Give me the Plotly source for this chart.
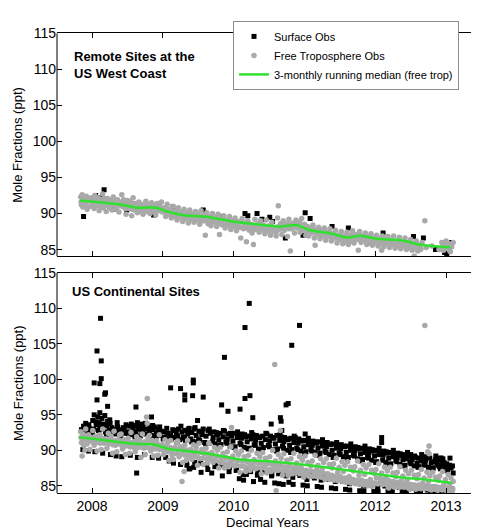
import plotly.graph_objects as go

# ---------------- data (decimal year, mole fraction ppt) ----------------
years_ticks = [2008, 2009, 2010, 2011, 2012, 2013]
y_ticks = [85, 90, 95, 100, 105, 110, 115]

# Top panel: remote sites at the US west coast
top_surface = [
    (2007.88, 89.6), (2007.92, 91.9), (2008.05, 92.5), (2008.12, 92.2), (2008.17, 93.3),
    (2008.25, 91.0), (2008.33, 90.6), (2008.49, 90.5), (2008.58, 91.4), (2008.70, 90.4),
    (2008.87, 89.8), (2008.95, 90.9), (2009.14, 90.9), (2009.30, 89.4), (2009.45, 89.9),
    (2009.57, 90.5), (2009.71, 88.9), (2009.85, 89.6), (2010.00, 88.6), (2010.16, 90.0),
    (2010.20, 89.7), (2010.33, 90.0), (2010.40, 89.2), (2010.51, 89.5), (2010.55, 88.9),
    (2010.73, 86.6), (2010.86, 88.4), (2010.98, 87.0), (2011.01, 90.1), (2011.08, 89.3),
    (2011.25, 87.5), (2011.39, 88.2), (2011.50, 86.8), (2011.62, 88.0), (2011.70, 86.4),
    (2011.83, 86.8), (2011.95, 86.0), (2012.11, 87.3), (2012.25, 86.1), (2012.40, 85.6),
    (2012.54, 86.8), (2012.68, 86.6), (2012.85, 85.0), (2012.96, 85.9), (2013.01, 84.3),
    (2013.05, 85.2), (2013.08, 86.0), (2012.98, 84.6),
]
top_free = [
    (2007.84, 92.3), (2007.85, 91.2), (2007.86, 92.6), (2007.87, 90.9), (2007.88, 91.8),
    (2007.89, 92.1), (2007.90, 91.5), (2007.92, 92.4), (2007.93, 90.6), (2007.95, 91.9),
    (2007.97, 91.0), (2007.99, 92.2), (2008.01, 91.4), (2008.03, 90.7), (2008.04, 92.5),
    (2008.06, 91.1), (2008.08, 91.8), (2008.10, 90.4), (2008.11, 92.0), (2008.13, 91.3),
    (2008.15, 92.7), (2008.16, 90.8), (2008.18, 91.6), (2008.20, 90.3), (2008.22, 92.1),
    (2008.24, 91.0), (2008.26, 91.7), (2008.28, 90.5), (2008.30, 92.3), (2008.32, 91.2),
    (2008.34, 90.6), (2008.36, 91.9), (2008.38, 90.2), (2008.40, 91.5), (2008.42, 92.6),
    (2008.44, 90.9), (2008.46, 91.4), (2008.48, 89.9), (2008.50, 91.8), (2008.52, 90.7),
    (2008.54, 91.2), (2008.56, 89.7), (2008.58, 92.2), (2008.60, 90.5), (2008.62, 91.1),
    (2008.64, 90.1), (2008.66, 91.6), (2008.68, 90.4), (2008.70, 91.3), (2008.72, 89.9),
    (2008.74, 90.9), (2008.76, 91.7), (2008.78, 90.3), (2008.80, 91.0), (2008.82, 90.0),
    (2008.84, 91.5), (2008.86, 90.6), (2008.88, 91.2), (2008.90, 89.8), (2008.92, 91.4),
    (2008.94, 90.4), (2008.96, 90.9), (2008.98, 91.6), (2009.00, 90.2), (2009.02, 90.8),
    (2009.04, 89.6), (2009.06, 91.3), (2009.08, 90.0), (2009.10, 90.6), (2009.12, 89.4),
    (2009.14, 91.0), (2009.16, 89.9), (2009.18, 90.4), (2009.20, 89.1), (2009.22, 90.8),
    (2009.24, 89.6), (2009.26, 90.2), (2009.28, 88.9), (2009.30, 90.6), (2009.32, 89.4),
    (2009.34, 90.0), (2009.36, 88.7), (2009.38, 90.5), (2009.40, 89.3), (2009.42, 89.9),
    (2009.44, 88.8), (2009.46, 90.3), (2009.48, 89.1), (2009.50, 89.7), (2009.52, 88.5),
    (2009.54, 90.4), (2009.56, 89.0), (2009.58, 89.8), (2009.60, 87.0), (2009.62, 90.1),
    (2009.64, 88.6), (2009.66, 89.4), (2009.68, 88.3), (2009.70, 90.0), (2009.72, 88.9),
    (2009.74, 89.5), (2009.76, 88.2), (2009.78, 89.9), (2009.80, 87.1), (2009.82, 89.2),
    (2009.84, 88.4), (2009.86, 89.7), (2009.88, 88.0), (2009.90, 89.1), (2009.92, 88.6),
    (2009.94, 89.6), (2009.96, 87.8), (2009.98, 89.0), (2010.00, 88.3), (2010.02, 89.4),
    (2010.04, 87.6), (2010.06, 88.9), (2010.08, 88.1), (2010.10, 86.6), (2010.12, 89.3),
    (2010.14, 87.9), (2010.16, 88.7), (2010.18, 86.1), (2010.20, 89.0), (2010.22, 87.7),
    (2010.24, 88.5), (2010.26, 87.3), (2010.28, 85.7), (2010.30, 89.2), (2010.32, 88.0),
    (2010.34, 88.6), (2010.36, 87.4), (2010.38, 89.0), (2010.40, 87.9), (2010.42, 88.4),
    (2010.44, 87.2), (2010.46, 89.1), (2010.48, 87.6), (2010.50, 88.3), (2010.52, 87.0),
    (2010.54, 88.8), (2010.56, 87.5), (2010.58, 88.1), (2010.60, 86.9), (2010.62, 89.4),
    (2010.63, 91.1), (2010.64, 87.8), (2010.66, 88.6), (2010.68, 87.1), (2010.70, 89.0),
    (2010.72, 87.7), (2010.74, 88.5), (2010.76, 86.8), (2010.78, 89.2), (2010.80, 84.8),
    (2010.82, 87.9), (2010.84, 88.7), (2010.86, 87.3), (2010.88, 89.1), (2010.90, 88.0),
    (2010.92, 88.8), (2010.94, 87.4), (2010.96, 89.3), (2010.98, 87.8), (2011.00, 88.5),
    (2011.02, 87.0), (2011.04, 88.2), (2011.06, 86.9), (2011.08, 88.0), (2011.10, 87.3),
    (2011.12, 88.4), (2011.14, 86.6), (2011.15, 85.6), (2011.16, 87.8), (2011.18, 87.1),
    (2011.20, 88.1), (2011.22, 86.5), (2011.24, 87.6), (2011.26, 86.9), (2011.28, 88.0),
    (2011.30, 86.3), (2011.32, 87.4), (2011.34, 86.8), (2011.36, 87.9), (2011.38, 86.2),
    (2011.40, 87.2), (2011.42, 86.6), (2011.44, 87.7), (2011.46, 85.9), (2011.48, 87.0),
    (2011.50, 86.4), (2011.52, 87.5), (2011.54, 85.8), (2011.56, 86.9), (2011.58, 86.1),
    (2011.60, 87.4), (2011.62, 85.7), (2011.64, 86.8), (2011.66, 86.2), (2011.68, 87.6),
    (2011.70, 85.9), (2011.72, 87.1), (2011.74, 86.4), (2011.76, 84.9), (2011.78, 87.5),
    (2011.80, 86.0), (2011.82, 86.9), (2011.84, 86.3), (2011.86, 87.3), (2011.88, 85.7),
    (2011.90, 86.8), (2011.92, 86.1), (2011.94, 87.2), (2011.96, 85.6), (2011.98, 86.6),
    (2012.00, 86.0), (2012.02, 87.0), (2012.04, 85.5), (2012.06, 86.5), (2012.08, 85.9),
    (2012.09, 84.9), (2012.10, 86.9), (2012.12, 85.4), (2012.14, 86.4), (2012.16, 85.8),
    (2012.18, 86.8), (2012.20, 85.3), (2012.22, 86.3), (2012.24, 85.7), (2012.26, 86.9),
    (2012.28, 85.2), (2012.30, 86.2), (2012.32, 85.6), (2012.34, 86.7), (2012.36, 85.1),
    (2012.38, 86.1), (2012.40, 85.5), (2012.42, 86.6), (2012.44, 85.0), (2012.46, 86.0),
    (2012.48, 85.4), (2012.50, 86.4), (2012.52, 84.9), (2012.54, 85.8), (2012.55, 84.1),
    (2012.56, 85.2), (2012.58, 86.2), (2012.60, 84.8), (2012.62, 85.6), (2012.64, 85.0),
    (2012.66, 86.0), (2012.70, 89.0), (2012.72, 85.3), (2012.80, 85.5), (2012.90, 85.0),
    (2012.94, 86.0), (2012.96, 84.9), (2012.98, 85.6), (2013.00, 86.2), (2013.02, 85.1),
    (2013.04, 85.8), (2013.06, 84.7), (2013.08, 85.4), (2013.10, 86.0),
]
top_free_core = [
    (2007.845, 91.6), (2007.875, 92.0), (2007.905, 91.1), (2007.935, 91.7), (2007.965, 92.0),
    (2007.995, 91.1), (2008.025, 91.9), (2008.055, 91.3), (2008.085, 92.2), (2008.115, 91.0),
    (2008.145, 91.7), (2008.175, 92.1), (2008.205, 91.2), (2008.235, 91.9), (2008.265, 90.8),
    (2008.295, 91.5), (2008.325, 91.9), (2008.355, 90.9), (2008.385, 91.6), (2008.415, 91.1),
    (2008.445, 91.9), (2008.475, 90.7), (2008.505, 91.3), (2008.535, 91.7), (2008.565, 90.6),
    (2008.595, 91.4), (2008.625, 90.8), (2008.655, 91.2), (2008.685, 90.5), (2008.715, 91.0),
    (2008.745, 90.4), (2008.775, 91.3), (2008.805, 90.6), (2008.835, 91.0), (2008.865, 90.3),
    (2008.895, 91.1), (2008.925, 90.5), (2008.955, 90.9), (2008.985, 90.3), (2009.015, 90.7),
    (2009.045, 90.1), (2009.075, 90.6), (2009.105, 89.8), (2009.135, 90.3), (2009.165, 89.6),
    (2009.195, 90.1), (2009.225, 89.5), (2009.255, 90.0), (2009.285, 89.3), (2009.315, 89.9),
    (2009.345, 89.4), (2009.375, 89.8), (2009.405, 89.2), (2009.435, 89.7), (2009.465, 89.3),
    (2009.495, 89.9), (2009.525, 89.1), (2009.555, 89.6), (2009.585, 89.0), (2009.615, 89.5),
    (2009.645, 89.0), (2009.675, 89.6), (2009.705, 88.8), (2009.735, 89.3), (2009.765, 88.7),
    (2009.795, 89.2), (2009.825, 88.6), (2009.855, 89.1), (2009.885, 88.4), (2009.915, 89.0),
    (2009.945, 88.3), (2009.975, 88.8), (2010.005, 88.2), (2010.035, 88.7), (2010.065, 88.1),
    (2010.095, 88.8), (2010.125, 88.0), (2010.155, 88.5), (2010.185, 88.0), (2010.215, 88.6),
    (2010.245, 87.9), (2010.275, 88.4), (2010.305, 87.8), (2010.335, 88.3), (2010.365, 87.7),
    (2010.395, 88.4), (2010.425, 87.8), (2010.455, 88.2), (2010.485, 87.6), (2010.515, 88.3),
    (2010.545, 87.7), (2010.575, 88.0), (2010.605, 87.5), (2010.635, 88.2), (2010.665, 87.9),
    (2010.695, 88.4), (2010.725, 88.0), (2010.755, 88.6), (2010.785, 87.9), (2010.815, 88.5),
    (2010.845, 88.1), (2010.875, 88.6), (2010.905, 88.2), (2010.935, 88.7), (2010.965, 88.0),
    (2010.995, 88.3), (2011.025, 87.6), (2011.055, 88.0), (2011.085, 87.5), (2011.115, 87.9),
    (2011.145, 87.3), (2011.175, 87.7), (2011.205, 87.2), (2011.235, 87.6), (2011.265, 87.1),
    (2011.295, 87.5), (2011.325, 86.9), (2011.355, 87.3), (2011.385, 86.8), (2011.415, 87.1),
    (2011.445, 86.6), (2011.475, 87.0), (2011.505, 86.5), (2011.535, 86.9), (2011.565, 86.4),
    (2011.595, 86.8), (2011.625, 86.4), (2011.655, 87.0), (2011.685, 86.5), (2011.715, 86.9),
    (2011.745, 86.6), (2011.775, 87.0), (2011.805, 86.5), (2011.835, 86.9), (2011.865, 86.3),
    (2011.895, 86.7), (2011.925, 86.2), (2011.955, 86.6), (2011.985, 86.1), (2012.015, 86.5),
    (2012.045, 86.0), (2012.075, 86.4), (2012.105, 85.9), (2012.135, 86.3), (2012.165, 85.9),
    (2012.195, 86.2), (2012.225, 85.8), (2012.255, 86.2), (2012.285, 85.7), (2012.315, 86.1),
    (2012.345, 85.6), (2012.375, 86.0), (2012.405, 85.6), (2012.435, 85.9), (2012.465, 85.4),
    (2012.495, 85.8), (2012.525, 85.3), (2012.555, 85.6), (2012.585, 85.2), (2012.615, 85.5),
    (2012.645, 85.1), (2012.955, 85.4), (2012.985, 85.0), (2013.015, 85.5), (2013.045, 85.2),
    (2013.075, 85.7),
]
top_median_years = [2007.83, 2008.21, 2008.40, 2008.63, 2008.91, 2009.05, 2009.29, 2009.62,
                    2010.00, 2010.28, 2010.66, 2010.89, 2011.06, 2011.36, 2011.60, 2011.79,
                    2012.02, 2012.26, 2012.40, 2012.63, 2013.06]
top_median_vals = [91.82, 91.45, 91.27, 90.82, 90.82, 90.32, 89.77, 89.55,
                   88.86, 88.55, 88.18, 88.41, 87.73, 87.27, 86.68, 86.91,
                   86.50, 86.36, 86.23, 85.68, 85.32]

# Bottom panel: US continental sites
bottom_surface = [
    (2007.85, 92.9), (2007.87, 90.1), (2007.88, 93.4), (2007.89, 92.5),
    (2007.91, 93.8), (2007.93, 92.6), (2007.95, 89.9), (2007.96, 93.1), (2007.98, 92.4),
    (2008.01, 94.2), (2008.02, 93.0), (2008.03, 95.0), (2008.04, 89.8), (2008.06, 93.6), (2008.08, 94.7), (2008.09, 92.8),
    (2008.10, 93.9), (2008.11, 95.3), (2008.12, 93.2), (2008.14, 94.5), (2008.15, 89.6), (2008.16, 93.7), (2008.18, 94.9), (2008.19, 92.6),
    (2008.21, 93.5), (2008.22, 94.1), (2008.24, 92.8), (2008.25, 94.3), (2008.26, 89.4), (2008.28, 93.2), (2008.29, 92.5),
    (2008.31, 93.0), (2008.33, 92.3), (2008.34, 89.2), (2008.36, 93.3), (2008.38, 92.7),
    (2008.41, 92.9), (2008.42, 89.1), (2008.44, 93.2), (2008.46, 92.4), (2008.48, 93.6),
    (2008.51, 92.6), (2008.53, 93.4), (2008.54, 89.3), (2008.56, 92.2), (2008.58, 93.1), (2008.59, 92.7),
    (2008.61, 93.5), (2008.62, 92.4), (2008.64, 89.0), (2008.66, 93.3), (2008.68, 92.0), (2008.69, 93.7),
    (2008.71, 92.6), (2008.72, 93.2), (2008.74, 89.4), (2008.76, 92.3), (2008.78, 93.0),
    (2008.81, 92.8), (2008.82, 93.4), (2008.84, 92.1), (2008.85, 89.0), (2008.86, 92.9), (2008.88, 93.3),
    (2008.91, 92.4), (2008.93, 93.0), (2008.94, 88.9), (2008.96, 92.1), (2008.98, 92.7),
    (2009.01, 91.8), (2009.02, 92.6), (2009.04, 89.0), (2009.05, 91.9), (2009.07, 92.4), (2009.09, 88.5),
    (2009.11, 92.2), (2009.12, 91.6), (2009.14, 92.9), (2009.15, 88.2), (2009.17, 91.8), (2009.19, 92.5),
    (2009.21, 92.0), (2009.22, 93.0), (2009.24, 91.5), (2009.25, 88.0), (2009.27, 92.6), (2009.29, 91.9),
    (2009.31, 92.8), (2009.32, 91.4), (2009.34, 87.9), (2009.35, 92.3), (2009.37, 93.1), (2009.38, 87.4), (2009.39, 91.6),
    (2009.41, 92.5), (2009.42, 91.3), (2009.44, 93.0), (2009.45, 88.3), (2009.47, 92.1), (2009.49, 91.2),
    (2009.51, 92.7), (2009.52, 91.4), (2009.54, 86.9), (2009.55, 92.2), (2009.57, 93.0), (2009.59, 91.1),
    (2009.61, 92.0), (2009.62, 88.0), (2009.64, 92.8), (2009.65, 91.0), (2009.67, 92.4), (2009.69, 86.8),
    (2009.71, 91.8), (2009.72, 92.6), (2009.74, 90.9), (2009.75, 87.9), (2009.77, 92.2), (2009.79, 91.5),
    (2009.81, 92.4), (2009.82, 90.8), (2009.84, 86.4), (2009.85, 91.9), (2009.87, 92.7), (2009.89, 91.2),
    (2009.91, 91.6), (2009.92, 92.3), (2009.94, 87.6), (2009.95, 90.6), (2009.97, 92.0), (2009.99, 91.3),
    (2010.01, 92.4), (2010.02, 90.5), (2010.04, 87.2), (2010.05, 91.8), (2010.07, 92.1), (2010.08, 86.0), (2010.09, 91.0),
    (2010.11, 91.7), (2010.12, 92.3), (2010.14, 85.8), (2010.15, 90.4), (2010.17, 91.9), (2010.18, 87.4), (2010.19, 91.2),
    (2010.21, 92.0), (2010.22, 90.3), (2010.24, 87.0), (2010.25, 91.6), (2010.27, 92.2), (2010.28, 85.6), (2010.29, 90.8),
    (2010.31, 91.4), (2010.32, 92.1), (2010.34, 86.9), (2010.35, 90.2), (2010.37, 91.8), (2010.38, 85.9), (2010.39, 91.0),
    (2010.41, 92.0), (2010.42, 90.4), (2010.44, 85.5), (2010.45, 91.5), (2010.47, 92.3), (2010.48, 87.1), (2010.49, 90.7),
    (2010.51, 91.3), (2010.52, 92.0), (2010.54, 86.6), (2010.55, 90.1), (2010.57, 91.7), (2010.58, 85.4), (2010.59, 90.9),
    (2010.61, 92.1), (2010.62, 90.2), (2010.64, 85.3), (2010.65, 91.4), (2010.67, 91.9), (2010.68, 86.9), (2010.69, 90.6),
    (2010.71, 91.2), (2010.72, 91.8), (2010.74, 86.4), (2010.75, 90.0), (2010.77, 91.5), (2010.78, 85.5), (2010.79, 90.7),
    (2010.81, 91.7), (2010.82, 90.1), (2010.84, 85.2), (2010.85, 91.1), (2010.87, 91.8), (2010.88, 86.8), (2010.89, 90.3),
    (2010.91, 91.0), (2010.92, 91.6), (2010.94, 86.5), (2010.95, 89.9), (2010.97, 91.3), (2010.98, 85.1), (2010.99, 90.5),
    (2011.01, 91.4), (2011.02, 89.8), (2011.04, 85.0), (2011.05, 90.8), (2011.07, 91.2), (2011.08, 86.6), (2011.09, 90.1),
    (2011.11, 90.7), (2011.12, 91.3), (2011.14, 86.1), (2011.15, 89.7), (2011.17, 91.0), (2011.18, 84.9), (2011.19, 90.3),
    (2011.21, 91.2), (2011.22, 89.6), (2011.24, 84.8), (2011.25, 90.6), (2011.27, 91.0), (2011.28, 86.3), (2011.29, 89.9),
    (2011.31, 90.5), (2011.32, 91.1), (2011.34, 85.9), (2011.35, 89.4), (2011.37, 90.8), (2011.38, 84.7), (2011.39, 90.0),
    (2011.41, 90.9), (2011.42, 89.3), (2011.44, 84.6), (2011.45, 90.3), (2011.47, 90.7), (2011.48, 86.0), (2011.49, 89.6),
    (2011.51, 90.2), (2011.52, 90.8), (2011.54, 85.6), (2011.55, 89.1), (2011.57, 90.5), (2011.58, 84.5), (2011.59, 89.7),
    (2011.61, 90.6), (2011.62, 89.0), (2011.64, 84.4), (2011.65, 90.0), (2011.67, 90.4), (2011.68, 85.8), (2011.69, 89.3),
    (2011.71, 89.9), (2011.72, 90.5), (2011.74, 85.4), (2011.75, 88.8), (2011.77, 90.2), (2011.78, 84.3), (2011.79, 89.5),
    (2011.81, 90.3), (2011.82, 88.7), (2011.84, 84.3), (2011.85, 89.7), (2011.87, 90.1), (2011.88, 85.5), (2011.89, 89.0),
    (2011.91, 89.6), (2011.92, 90.2), (2011.94, 85.2), (2011.95, 88.6), (2011.97, 89.9), (2011.98, 84.2), (2011.99, 89.2),
    (2012.01, 90.0), (2012.02, 88.4), (2012.04, 84.2), (2012.05, 89.4), (2012.07, 89.8), (2012.08, 85.3), (2012.09, 91.8), (2012.09, 91.1),
    (2012.11, 89.3), (2012.12, 89.9), (2012.14, 85.0), (2012.15, 88.3), (2012.17, 89.6), (2012.18, 84.2), (2012.19, 88.9),
    (2012.21, 89.7), (2012.22, 88.1), (2012.24, 84.3), (2012.25, 89.1), (2012.27, 89.5), (2012.28, 85.1), (2012.29, 88.6),
    (2012.31, 89.0), (2012.32, 89.6), (2012.34, 84.8), (2012.35, 88.0), (2012.37, 89.3), (2012.38, 84.2), (2012.39, 88.7),
    (2012.41, 89.4), (2012.42, 87.9), (2012.44, 84.2), (2012.45, 88.8), (2012.47, 89.2), (2012.48, 84.9), (2012.49, 88.3),
    (2012.50, 89.3), (2012.52, 88.7), (2012.53, 84.7), (2012.55, 87.8), (2012.57, 89.0), (2012.58, 84.2), (2012.59, 88.2),
    (2012.61, 88.9), (2012.62, 87.7), (2012.64, 84.2), (2012.65, 88.5), (2012.67, 88.8), (2012.68, 84.8), (2012.69, 88.0),
    (2012.71, 88.6), (2012.72, 89.1), (2012.74, 84.6), (2012.75, 87.6), (2012.77, 88.9), (2012.78, 84.2), (2012.79, 88.2),
    (2012.81, 88.4), (2012.82, 87.5), (2012.84, 84.2), (2012.85, 88.7), (2012.87, 88.1), (2012.88, 84.7), (2012.89, 87.9),
    (2012.91, 88.6), (2012.92, 87.4), (2012.93, 88.9), (2012.94, 84.5), (2012.95, 88.0), (2012.97, 88.3), (2012.98, 84.2), (2012.99, 87.6),
    (2013.01, 88.1), (2013.02, 87.2), (2013.04, 84.2), (2013.05, 87.9), (2013.07, 87.5), (2013.08, 84.6), (2013.09, 87.8), (2013.10, 86.8),
]
bottom_surface_band = [
    (2007.905, 92.9), (2007.955, 93.6), (2008.005, 92.5), (2008.055, 94.0), (2008.105, 92.9),
    (2008.155, 93.4), (2008.205, 92.2), (2008.255, 93.8), (2008.305, 92.6), (2008.355, 93.9),
    (2008.405, 92.0), (2008.455, 93.1), (2008.505, 92.4), (2008.555, 93.7), (2008.605, 91.9),
    (2008.655, 93.0), (2008.705, 92.5), (2008.755, 93.8), (2008.805, 92.0), (2008.855, 93.5),
    (2008.905, 91.8), (2008.955, 93.3), (2009.005, 91.6), (2009.055, 93.1), (2009.105, 91.9),
    (2009.155, 92.8), (2009.205, 91.3), (2009.255, 93.4), (2009.305, 91.7), (2009.355, 92.9),
    (2009.405, 91.2), (2009.455, 93.2), (2009.505, 91.5), (2009.555, 92.6), (2009.605, 90.9),
    (2009.655, 93.0), (2009.705, 91.3), (2009.755, 92.5), (2009.805, 90.7), (2009.855, 92.8),
    (2009.905, 91.0), (2009.955, 92.4), (2010.005, 90.4), (2010.055, 92.6), (2010.105, 90.8),
    (2010.155, 92.2), (2010.205, 90.2), (2010.255, 92.5), (2010.305, 90.7), (2010.355, 91.9),
    (2010.405, 90.0), (2010.455, 92.4), (2010.505, 90.5), (2010.555, 91.8), (2010.605, 89.9),
    (2010.655, 92.2), (2010.705, 90.3), (2010.755, 91.6), (2010.805, 89.7), (2010.855, 92.0),
    (2010.905, 90.1), (2010.955, 91.4), (2011.005, 89.5), (2011.055, 91.7), (2011.105, 89.9),
    (2011.155, 91.2), (2011.205, 89.3), (2011.255, 91.5), (2011.305, 89.7), (2011.355, 90.9),
    (2011.405, 89.0), (2011.455, 91.1), (2011.505, 89.4), (2011.555, 90.6), (2011.605, 88.8),
    (2011.655, 90.9), (2011.705, 89.2), (2011.755, 90.4), (2011.805, 88.5), (2011.855, 90.6),
    (2011.905, 88.9), (2011.955, 90.1), (2012.005, 88.3), (2012.055, 90.3), (2012.105, 88.6),
    (2012.155, 89.8), (2012.205, 88.0), (2012.255, 90.0), (2012.305, 88.4), (2012.355, 89.5),
    (2012.405, 87.8), (2012.455, 89.7), (2012.505, 88.1), (2012.555, 89.2), (2012.605, 87.6),
    (2012.655, 89.4), (2012.705, 87.9), (2012.755, 89.0), (2012.805, 87.4), (2012.855, 89.2),
    (2012.905, 87.7), (2012.955, 88.8), (2013.005, 87.2), (2013.055, 88.9),
    (2009.335, 88.4), (2009.435, 87.6), (2009.535, 88.2), (2009.635, 87.3), (2009.735, 87.7),
    (2009.835, 87.9), (2009.935, 87.0), (2010.035, 87.2), (2010.135, 86.6), (2010.235, 87.1),
    (2010.335, 86.5), (2010.435, 87.0), (2010.535, 86.4), (2010.635, 86.7), (2010.735, 86.9),
    (2010.835, 86.2), (2010.935, 86.5), (2011.035, 85.9), (2011.135, 86.3), (2011.235, 85.8),
    (2011.335, 86.2), (2011.435, 85.6), (2011.535, 85.8), (2011.635, 85.3), (2011.735, 85.6),
    (2011.835, 85.0), (2011.935, 85.4), (2012.035, 84.9), (2012.135, 85.0), (2012.235, 84.6),
    (2012.335, 85.1), (2012.435, 84.5), (2012.535, 84.7), (2012.635, 84.9), (2012.735, 84.4),
    (2012.835, 84.7), (2012.935, 84.3), (2013.035, 84.6),
]
bottom_surface_outliers = [
    (2008.12, 108.6), (2008.07, 104.0), (2008.13, 102.6), (2008.03, 99.5), (2008.11, 99.4),
    (2008.13, 100.1), (2008.18, 97.9), (2008.19, 98.1), (2008.07, 97.1), (2008.22, 96.2),
    (2008.62, 96.1), (2008.64, 93.9), (2008.84, 94.7), (2008.63, 86.8), (2009.11, 98.8),
    (2009.25, 98.7), (2009.31, 97.8), (2009.31, 97.1), (2009.43, 99.9), (2009.43, 99.5),
    (2009.42, 97.7), (2009.57, 97.5), (2009.49, 94.2), (2009.37, 87.4), (2009.87, 103.1),
    (2009.83, 96.4), (2009.92, 95.5), (2010.09, 95.8), (2010.22, 110.7), (2010.16, 107.3),
    (2010.93, 107.6), (2010.82, 104.8), (2010.23, 97.7), (2010.16, 97.3), (2010.27, 94.6),
    (2010.74, 96.4), (2010.77, 96.6), (2010.53, 93.7), (2010.66, 94.6), (2010.67, 94.1),
    (2010.68, 92.8), (2011.01, 92.3), (2012.50, 89.4), (2012.92, 88.9), (2010.70, 85.2),
    (2010.18, 86.6),
]
bottom_free = [
    (2007.84, 92.6), (2007.85, 91.1), (2007.86, 89.2), (2007.87, 92.3), (2007.88, 90.7), (2007.89, 91.9), (2007.90, 90.0),
    (2007.91, 93.0), (2007.93, 90.9), (2007.95, 92.2), (2007.97, 90.1), (2007.99, 91.6),
    (2008.01, 92.8), (2008.03, 90.7), (2008.05, 92.0), (2008.07, 89.9), (2008.09, 91.4),
    (2008.11, 92.2), (2008.13, 90.1), (2008.15, 93.0), (2008.17, 91.0), (2008.19, 91.6),
    (2008.21, 90.3), (2008.23, 92.4), (2008.25, 91.1), (2008.27, 92.0), (2008.29, 89.6),
    (2008.31, 92.7), (2008.33, 90.7), (2008.35, 89.8), (2008.37, 91.5), (2008.39, 92.2),
    (2008.41, 92.3), (2008.43, 90.2), (2008.45, 91.5), (2008.47, 89.4), (2008.49, 90.9),
    (2008.51, 91.7), (2008.53, 89.6), (2008.55, 92.5), (2008.57, 90.5), (2008.59, 91.1),
    (2008.61, 89.8), (2008.63, 91.9), (2008.65, 90.6), (2008.67, 91.5), (2008.69, 89.0),
    (2008.71, 92.3), (2008.73, 90.3), (2008.75, 89.4), (2008.77, 94.7), (2008.78, 97.3), (2008.79, 91.8), (2008.78, 93.8),
    (2008.81, 92.1), (2008.83, 89.9), (2008.85, 91.3), (2008.87, 89.2), (2008.89, 90.6),
    (2008.91, 91.4), (2008.93, 89.3), (2008.95, 92.2), (2008.97, 90.2), (2008.99, 90.8),
    (2009.01, 89.4), (2009.03, 91.5), (2009.05, 90.2), (2009.07, 91.1), (2009.09, 88.6),
    (2009.11, 91.4), (2009.13, 89.3), (2009.15, 88.7), (2009.17, 90.4), (2009.19, 91.0),
    (2009.21, 91.3), (2009.23, 89.1), (2009.25, 90.5), (2009.27, 85.6), (2009.28, 88.3), (2009.29, 89.9),
    (2009.31, 90.7), (2009.30, 87.0), (2009.33, 88.6), (2009.35, 91.4), (2009.37, 89.4), (2009.39, 90.1),
    (2009.41, 88.7), (2009.43, 90.8), (2009.45, 89.5), (2009.47, 90.4), (2009.49, 87.9),
    (2009.51, 91.0), (2009.53, 88.8), (2009.55, 90.1), (2009.57, 88.0), (2009.59, 89.5),
    (2009.61, 90.3), (2009.63, 88.2), (2009.65, 91.0), (2009.67, 89.1), (2009.69, 89.7),
    (2009.71, 88.3), (2009.73, 90.4), (2009.75, 89.1), (2009.77, 90.0), (2009.79, 87.5),
    (2009.81, 90.4), (2009.83, 88.3), (2009.85, 89.6), (2009.87, 87.5), (2009.89, 89.0),
    (2009.91, 89.8), (2009.93, 87.7), (2009.97, 93.2), (2009.96, 90.5), (2009.97, 88.6), (2009.99, 89.2),
    (2010.01, 87.8), (2010.03, 89.9), (2010.05, 88.5), (2010.07, 89.4), (2010.09, 86.9),
    (2010.11, 89.9), (2010.13, 87.8), (2010.15, 89.1), (2010.17, 87.0), (2010.19, 88.5),
    (2010.21, 89.3), (2010.23, 87.2), (2010.25, 90.0), (2010.27, 88.0), (2010.29, 88.7),
    (2010.31, 87.4), (2010.33, 89.6), (2010.35, 88.2), (2010.37, 89.1), (2010.39, 86.7),
    (2010.41, 89.7), (2010.43, 87.6), (2010.45, 88.9), (2010.47, 86.8), (2010.49, 88.3),
    (2010.51, 89.1), (2010.53, 87.0), (2010.55, 90.0), (2010.57, 87.9), (2010.58, 102.1), (2010.59, 88.5),
    (2010.61, 87.2), (2010.60, 84.3), (2010.63, 89.4), (2010.65, 88.0), (2010.66, 92.8), (2010.67, 88.9), (2010.69, 86.5),
    (2010.71, 89.5), (2010.73, 87.3), (2010.75, 88.6), (2010.77, 86.5), (2010.79, 88.0),
    (2010.81, 88.8), (2010.83, 86.7), (2010.85, 89.6), (2010.87, 87.6), (2010.89, 88.2),
    (2010.91, 86.9), (2010.93, 89.1), (2010.95, 87.7), (2010.97, 88.6), (2010.99, 86.2),
    (2011.01, 89.2), (2011.03, 87.0), (2011.05, 88.3), (2011.07, 86.3), (2011.09, 87.8),
    (2011.11, 88.5), (2011.13, 86.4), (2011.15, 89.3), (2011.17, 87.3), (2011.19, 87.9),
    (2011.21, 86.6), (2011.23, 88.8), (2011.25, 87.4), (2011.27, 88.3), (2011.29, 85.9),
    (2011.31, 88.8), (2011.33, 86.7), (2011.35, 88.0), (2011.37, 86.0), (2011.39, 87.5),
    (2011.41, 88.1), (2011.43, 86.1), (2011.45, 88.9), (2011.47, 86.9), (2011.49, 87.6),
    (2011.51, 86.2), (2011.53, 88.4), (2011.55, 87.0), (2011.57, 87.9), (2011.59, 85.5),
    (2011.61, 88.4), (2011.63, 86.3), (2011.65, 87.6), (2011.67, 85.6), (2011.69, 87.1),
    (2011.71, 87.7), (2011.73, 85.7), (2011.75, 88.5), (2011.77, 86.5), (2011.79, 87.2),
    (2011.81, 85.8), (2011.83, 88.0), (2011.85, 86.6), (2011.87, 87.5), (2011.89, 85.1),
    (2011.91, 88.0), (2011.93, 85.9), (2011.95, 87.2), (2011.97, 85.2), (2011.99, 86.7),
    (2012.01, 87.3), (2012.03, 85.3), (2012.05, 88.1), (2012.07, 86.1), (2012.09, 86.8),
    (2012.11, 85.4), (2012.13, 87.6), (2012.15, 86.2), (2012.17, 87.1), (2012.19, 84.7),
    (2012.21, 87.6), (2012.23, 85.5), (2012.25, 86.8), (2012.27, 84.8), (2012.29, 86.3),
    (2012.31, 86.9), (2012.33, 84.9), (2012.35, 87.7), (2012.37, 85.7), (2012.39, 86.4),
    (2012.41, 85.0), (2012.43, 87.2), (2012.45, 85.8), (2012.47, 86.7), (2012.49, 84.5),
    (2012.51, 87.2), (2012.53, 85.1), (2012.55, 86.5), (2012.57, 84.5), (2012.59, 86.0),
    (2012.61, 86.6), (2012.63, 84.7), (2012.65, 87.3), (2012.67, 85.4), (2012.69, 86.1),
    (2012.70, 107.6), (2012.71, 84.8), (2012.73, 86.9), (2012.75, 85.6), (2012.76, 89.5), (2012.76, 90.6),
    (2012.77, 86.4), (2012.74, 89.8), (2012.79, 84.4),
    (2012.81, 86.9), (2012.83, 84.9), (2012.85, 86.2), (2012.87, 84.4), (2012.89, 85.8),
    (2012.91, 86.4), (2012.93, 84.5), (2012.95, 87.0), (2012.97, 85.2), (2012.99, 85.9),
    (2013.01, 84.5), (2013.03, 86.6), (2013.05, 85.2), (2013.07, 86.1), (2013.09, 84.3), (2013.10, 85.6),
]
bottom_free_core = [
    (2007.845, 91.8), (2007.875, 91.5), (2007.905, 92.1), (2007.935, 91.4), (2007.965, 91.9),
    (2007.995, 91.2), (2008.025, 91.8), (2008.055, 91.1), (2008.085, 91.6), (2008.115, 91.0),
    (2008.145, 91.7), (2008.175, 91.2), (2008.205, 91.6), (2008.235, 90.9), (2008.265, 91.5),
    (2008.295, 90.8), (2008.325, 91.4), (2008.355, 90.9), (2008.385, 91.3), (2008.415, 90.7),
    (2008.445, 91.4), (2008.475, 90.6), (2008.505, 91.2), (2008.535, 90.5), (2008.565, 91.1),
    (2008.595, 90.4), (2008.625, 91.2), (2008.655, 90.4), (2008.685, 91.0), (2008.715, 90.5),
    (2008.745, 91.2), (2008.775, 90.4), (2008.805, 91.1), (2008.835, 90.3), (2008.865, 91.0),
    (2008.895, 90.2), (2008.925, 90.9), (2008.955, 90.1), (2008.985, 90.7), (2009.015, 90.0),
    (2009.045, 90.6), (2009.075, 89.8), (2009.105, 90.4), (2009.135, 89.6), (2009.165, 90.3),
    (2009.195, 89.5), (2009.225, 90.2), (2009.255, 89.4), (2009.285, 90.1), (2009.315, 89.3),
    (2009.345, 90.0), (2009.375, 89.2), (2009.405, 89.9), (2009.435, 89.1), (2009.465, 89.8),
    (2009.495, 89.0), (2009.525, 89.7), (2009.555, 88.9), (2009.585, 89.6), (2009.615, 88.8),
    (2009.645, 89.5), (2009.675, 88.7), (2009.705, 89.4), (2009.735, 88.6), (2009.765, 89.2),
    (2009.795, 88.4), (2009.825, 89.0), (2009.855, 88.2), (2009.885, 88.9), (2009.915, 88.1),
    (2009.945, 88.8), (2009.975, 88.0), (2010.005, 88.7), (2010.035, 87.9), (2010.065, 88.6),
    (2010.095, 87.8), (2010.125, 88.5), (2010.155, 87.7), (2010.185, 88.4), (2010.215, 87.7),
    (2010.245, 88.3), (2010.275, 87.6), (2010.305, 88.3), (2010.335, 87.5), (2010.365, 88.2),
    (2010.395, 87.5), (2010.425, 88.1), (2010.455, 87.4), (2010.485, 88.1), (2010.515, 87.3),
    (2010.545, 88.0), (2010.575, 87.3), (2010.605, 87.9), (2010.635, 87.2), (2010.665, 87.8),
    (2010.695, 87.1), (2010.725, 87.7), (2010.755, 87.0), (2010.785, 87.6), (2010.815, 86.9),
    (2010.845, 87.5), (2010.875, 86.8), (2010.905, 87.4), (2010.935, 86.7), (2010.965, 87.3),
    (2010.995, 86.6), (2011.025, 87.2), (2011.055, 86.5), (2011.085, 87.1), (2011.115, 86.4),
    (2011.145, 87.0), (2011.175, 86.3), (2011.205, 86.9), (2011.235, 86.2), (2011.265, 86.8),
    (2011.295, 86.1), (2011.325, 86.6), (2011.355, 85.9), (2011.385, 86.5), (2011.415, 85.8),
    (2011.445, 86.4), (2011.475, 85.7), (2011.505, 86.3), (2011.535, 85.6), (2011.565, 86.1),
    (2011.595, 85.5), (2011.625, 86.0), (2011.655, 85.4), (2011.685, 85.9), (2011.715, 85.3),
    (2011.745, 85.8), (2011.775, 85.2), (2011.805, 85.7), (2011.835, 85.1), (2011.865, 85.6),
    (2011.895, 85.0), (2011.925, 85.5), (2011.955, 84.9), (2011.985, 85.4), (2012.015, 86.1),
    (2012.045, 85.3), (2012.075, 85.9), (2012.105, 85.2), (2012.135, 85.8), (2012.165, 85.1),
    (2012.195, 85.7), (2012.225, 85.0), (2012.255, 85.6), (2012.285, 84.9), (2012.315, 85.5),
    (2012.345, 84.8), (2012.375, 85.4), (2012.405, 84.8), (2012.435, 85.3), (2012.465, 84.7),
    (2012.495, 85.2), (2012.525, 84.7), (2012.555, 85.1), (2012.585, 84.6), (2012.615, 85.1),
    (2012.645, 84.6), (2012.675, 85.0), (2012.705, 84.6), (2012.735, 85.0), (2012.765, 84.5),
    (2012.795, 84.9), (2012.825, 84.5), (2012.855, 84.9), (2012.885, 84.4), (2012.915, 84.8),
    (2012.945, 84.4), (2012.975, 84.7), (2013.005, 84.3), (2013.035, 84.7), (2013.065, 84.2),
    (2013.095, 84.6),
]
bottom_median_years = [2007.82, 2008.21, 2008.58, 2008.87, 2009.10, 2009.34, 2009.62, 2009.95,
                       2010.09, 2010.56, 2011.03, 2011.50, 2011.97, 2012.44, 2012.73, 2013.08]
bottom_median_vals = [91.84, 91.39, 90.93, 90.83, 90.14, 89.91, 89.55, 88.95,
                      88.72, 88.39, 87.94, 87.34, 86.70, 86.10, 85.87, 85.41]

# ---------------- styling ----------------
FONT = "Liberation Sans, Arial, Helvetica, sans-serif"
BLACK = "#000000"
GREY = "#a9a9a9"
GREEN = "#2fe02f"
# The page body has an 8 px margin, so the figure is 8 px smaller than the window
# and all reference pixel positions are shifted by -8.
OFF = 8
W, H = 479 - OFF, 529 - OFF


def px_x(p):
    return (p - OFF) / W


def px_y(p):
    return 1 - (p - OFF) / H


def xs(pts):
    return [p[0] for p in pts]


def ys(pts):
    return [p[1] for p in pts]


fig = go.Figure()

panels = [
    ("x", "y", top_surface, top_free + top_free_core, top_median_years, top_median_vals, True),
    ("x2", "y2", bottom_surface + bottom_surface_band + bottom_surface_outliers,
     bottom_free + bottom_free_core, bottom_median_years, bottom_median_vals, False),
]
for xa, ya, surf, free, my, mv, leg in panels:
    fig.add_trace(go.Scatter(
        x=xs(surf), y=ys(surf), mode="markers", name="Surface Obs",
        marker=dict(symbol="square", size=5, color=BLACK, line=dict(width=0)),
        xaxis=xa, yaxis=ya, showlegend=leg, hoverinfo="skip"))
    fig.add_trace(go.Scatter(
        x=xs(free), y=ys(free), mode="markers", name="Free Troposphere Obs",
        marker=dict(symbol="circle", size=5.5, color=GREY, line=dict(width=0)),
        xaxis=xa, yaxis=ya, showlegend=leg, hoverinfo="skip"))
    fig.add_trace(go.Scatter(
        x=my, y=mv, mode="lines", name="3-monthly running median (free trop)",
        line=dict(color=GREEN, width=2.5, shape="spline", smoothing=0.6),
        xaxis=xa, yaxis=ya, showlegend=leg, hoverinfo="skip"))

x_range = [2007.505, 2013.465]
xdom = [px_x(57), 1.0]
common_x = dict(range=x_range, domain=xdom, tickvals=years_ticks, ticks="inside",
                ticklen=5, tickwidth=1, tickcolor=BLACK, showline=True, linecolor=BLACK,
                linewidth=1, mirror="ticks", showgrid=False, zeroline=False,
                tickfont=dict(family=FONT, size=14, color=BLACK))
common_y = dict(tickvals=y_ticks, ticks="inside", ticklen=5, tickwidth=1, tickcolor=BLACK,
                showline=False, mirror="ticks", showgrid=False, zeroline=False,
                tickfont=dict(family=FONT, size=14, color=BLACK), ticklabelstandoff=0)

fig.update_layout(
    width=W, height=H,
    margin=dict(l=0, r=0, t=0, b=0),
    paper_bgcolor="white", plot_bgcolor="white",
    font=dict(family=FONT, color=BLACK),
    xaxis=dict(**common_x, anchor="y", showticklabels=False),
    yaxis=dict(**common_y, anchor="x", range=[84.1, 115],
               domain=[px_y(252.3), px_y(25.7)]),
    xaxis2=dict(**common_x, anchor="y2", showticklabels=True),
    yaxis2=dict(**common_y, anchor="x2", range=[84.0, 115],
                domain=[px_y(493.3), px_y(269.4)]),
    legend=dict(x=px_x(233), y=px_y(13), xanchor="left", yanchor="top",
                bgcolor="white", bordercolor="#8c8c8c", borderwidth=1,
                font=dict(family=FONT, size=11, color=BLACK),
                itemwidth=30, tracegroupgap=0),
    shapes=[
        dict(type="line", xref="x domain", yref="y domain", x0=0, x1=0, y0=0, y1=1,
             line=dict(color=BLACK, width=1)),
        dict(type="line", xref="x2 domain", yref="y2 domain", x0=0, x1=0, y0=0, y1=1,
             line=dict(color=BLACK, width=1)),
    ],
    annotations=[
        dict(text="<b>Remote Sites at the<br>US West Coast</b>", x=px_x(72), y=px_y(40),
             xref="paper", yref="paper", xanchor="left", yanchor="top", align="left",
             showarrow=False, font=dict(family=FONT, size=13, color=BLACK)),
        dict(text="<b>US Continental Sites</b>", x=px_x(70), y=px_y(288),
             xref="paper", yref="paper", xanchor="left", yanchor="middle", align="left",
             showarrow=False, font=dict(family=FONT, size=13, color=BLACK)),
        dict(text="Mole Fractions (ppt)", x=px_x(18), y=px_y(139), textangle=-90,
             xref="paper", yref="paper", xanchor="center", yanchor="middle",
             showarrow=False, font=dict(family=FONT, size=13, color=BLACK)),
        dict(text="Mole Fractions (ppt)", x=px_x(18), y=px_y(381.5), textangle=-90,
             xref="paper", yref="paper", xanchor="center", yanchor="middle",
             showarrow=False, font=dict(family=FONT, size=13, color=BLACK)),
        dict(text="Decimal Years", x=px_x(268), y=px_y(523),
             xref="paper", yref="paper", xanchor="center", yanchor="middle",
             showarrow=False, font=dict(family=FONT, size=13, color=BLACK)),
    ],
)

fig.write_html("out.html")
